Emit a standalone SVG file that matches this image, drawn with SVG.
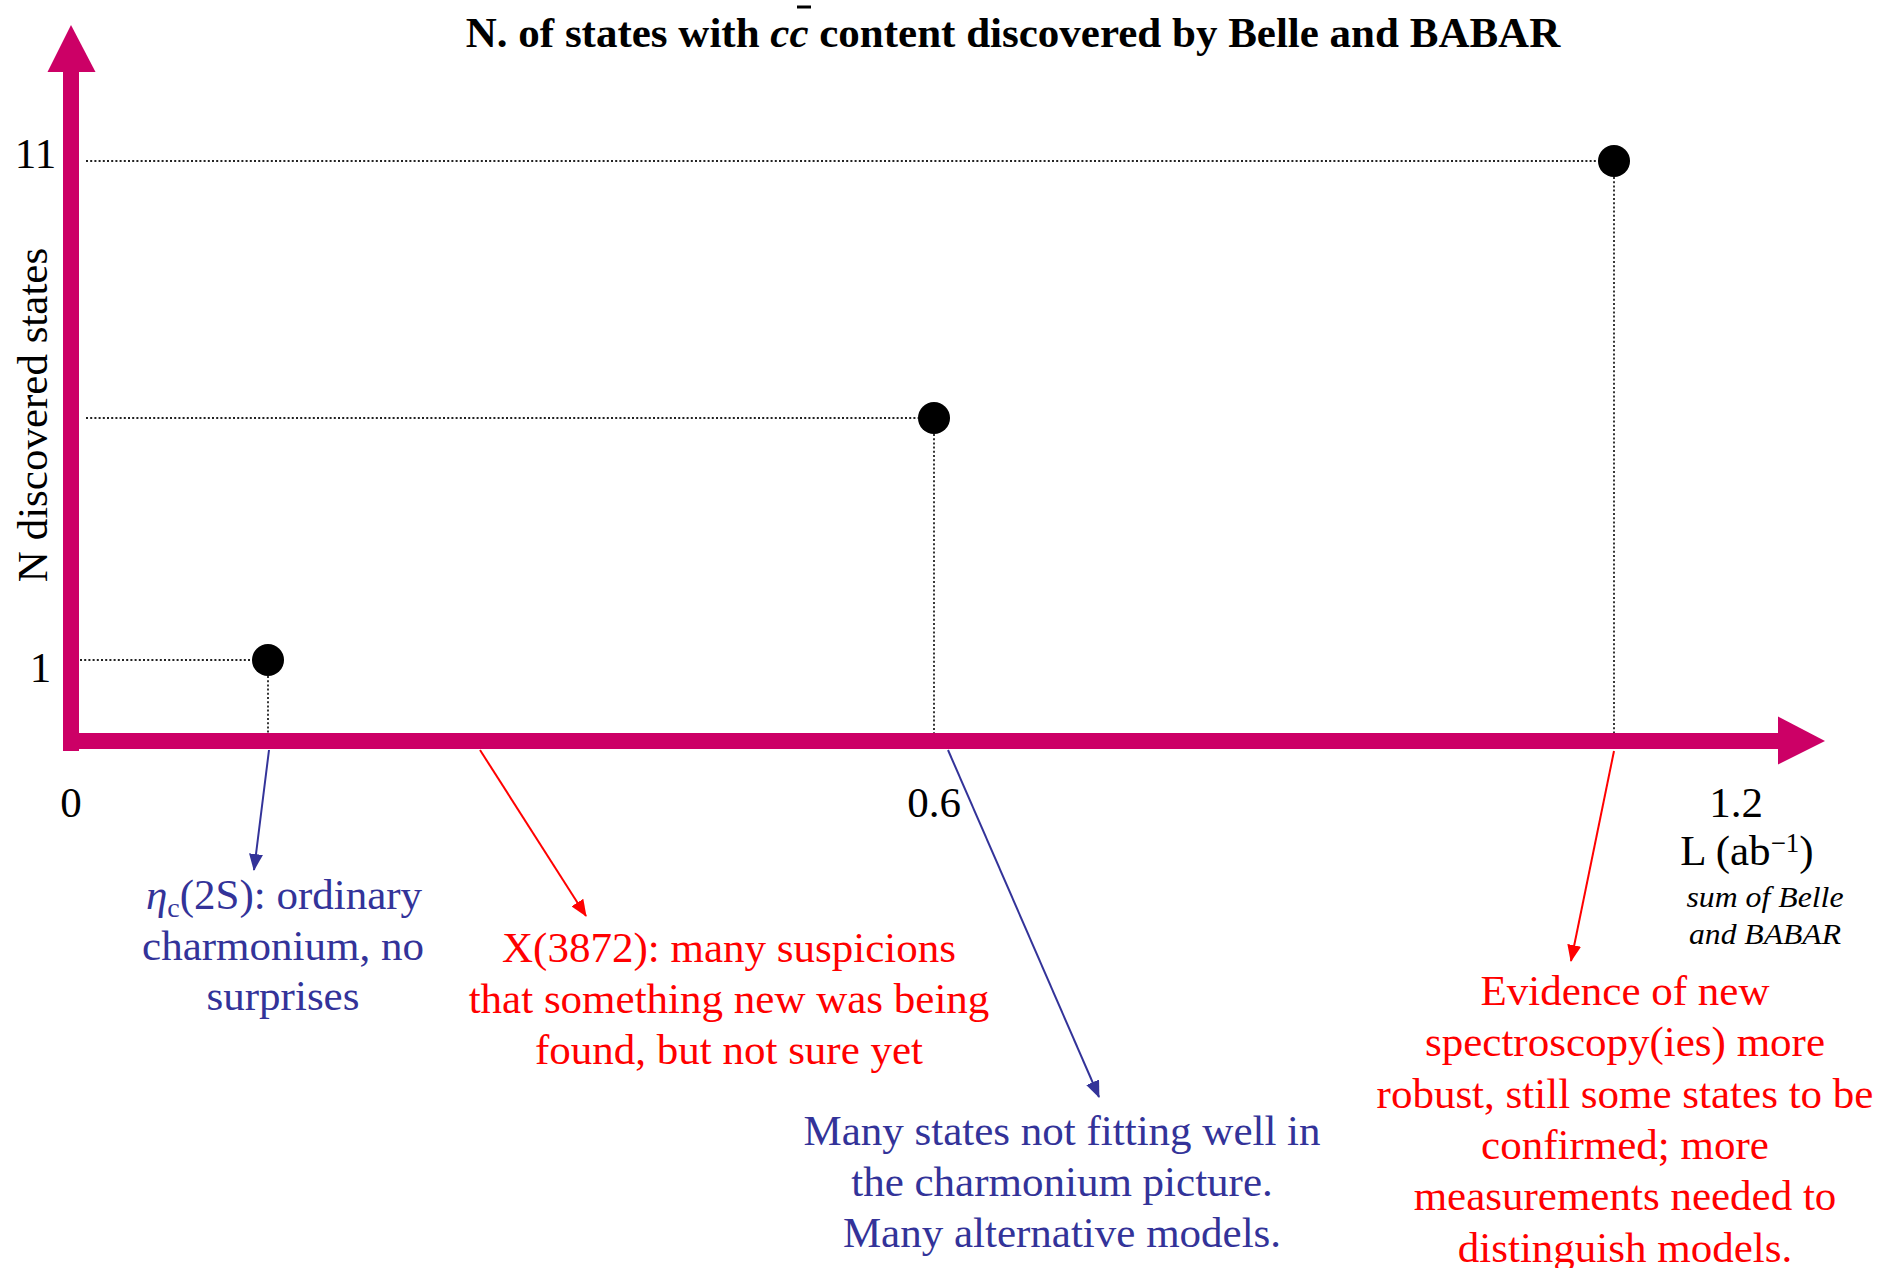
<svg xmlns="http://www.w3.org/2000/svg" width="1895" height="1268" viewBox="0 0 1895 1268">
  <style>
    text { font-family: "Liberation Serif", "Times New Roman", serif; font-size: 43px; }
    .blue { fill: #333399; }
    .red { fill: #FF0000; }
    .blk { fill: #000000; }
    .axis { fill: #CC0066; }
    .dot { stroke: #222222; stroke-width: 1.8; stroke-dasharray: 2 2.2; fill: none; }
    .pt { fill: #000000; }
    .cb { stroke: #333399; stroke-width: 2; fill: none; }
    .cr { stroke: #FF0000; stroke-width: 2; fill: none; }
    .note { font-style: italic; font-size: 29px; }
  </style>
  <defs>
    <marker id="ab" markerUnits="userSpaceOnUse" markerWidth="18" markerHeight="14" refX="16" refY="7" orient="auto">
      <path d="M0,0 L17,7 L0,14 z" fill="#333399"/>
    </marker>
    <marker id="ar" markerUnits="userSpaceOnUse" markerWidth="18" markerHeight="14" refX="16" refY="7" orient="auto">
      <path d="M0,0 L17,7 L0,14 z" fill="#FF0000"/>
    </marker>
  </defs>
  <rect width="1895" height="1268" fill="#FFFFFF"/>

  <!-- title -->
  <g id="title">
    <text x="1013" y="47" text-anchor="middle" font-weight="bold" class="blk">N. of states with <tspan font-style="italic">cc</tspan> content discovered by Belle and BABAR</text>
    <line x1="797" y1="7" x2="811" y2="7" stroke="#000" stroke-width="3"/>
  </g>

  <!-- guide lines -->
  <g id="guides">
    <line class="dot" x1="80" y1="660" x2="252" y2="660"/>
    <line class="dot" x1="268" y1="676" x2="268" y2="733"/>
    <line class="dot" x1="86" y1="418" x2="918" y2="418"/>
    <line class="dot" x1="934" y1="434" x2="934" y2="733"/>
    <line class="dot" x1="86" y1="161" x2="1598" y2="161"/>
    <line class="dot" x1="1614" y1="177" x2="1614" y2="733"/>
  </g>

  <!-- axes -->
  <g id="axes">
    <rect class="axis" x="63" y="71" width="16" height="680"/>
    <polygon class="axis" points="47.5,72 71,25 95.5,72"/>
    <rect class="axis" x="63" y="733" width="1716" height="16"/>
    <polygon class="axis" points="1778,716.5 1825,741 1778,764.5"/>
  </g>

  <!-- data points -->
  <g id="point-1"><circle class="pt" cx="268" cy="660" r="16"/></g>
  <g id="point-2"><circle class="pt" cx="934" cy="418" r="16"/></g>
  <g id="point-3"><circle class="pt" cx="1614" cy="161" r="16"/></g>

  <!-- axis labels -->
  <g id="axis-labels">
    <text x="35.5" y="168" text-anchor="middle" class="blk">11</text>
    <text x="40.5" y="682" text-anchor="middle" class="blk">1</text>
    <text x="71" y="817" text-anchor="middle" class="blk">0</text>
    <text x="934" y="817" text-anchor="middle" class="blk">0.6</text>
    <text x="1736" y="817" text-anchor="middle" class="blk">1.2</text>
    <text x="1747" y="865" text-anchor="middle" class="blk">L (ab<tspan font-size="27" dy="-13">−1</tspan><tspan dy="13">)</tspan></text>
    <text x="1765" y="907" text-anchor="middle" class="blk note" textLength="157" lengthAdjust="spacingAndGlyphs">sum of Belle</text>
    <text x="1765" y="944" text-anchor="middle" class="blk note" textLength="152" lengthAdjust="spacingAndGlyphs">and BABAR</text>
    <text transform="translate(47,415) rotate(-90)" text-anchor="middle" class="blk">N discovered states</text>
  </g>

  <!-- connectors -->
  <g id="connectors">
    <line class="cb" x1="269" y1="750" x2="254" y2="870" marker-end="url(#ab)"/>
    <line class="cr" x1="480" y1="750" x2="586" y2="916" marker-end="url(#ar)"/>
    <line class="cb" x1="948" y1="750" x2="1099" y2="1097" marker-end="url(#ab)"/>
    <line class="cr" x1="1614" y1="751" x2="1571" y2="961" marker-end="url(#ar)"/>
  </g>

  <!-- annotations -->
  <g id="note-etac">
    <text x="284" y="909" text-anchor="middle" class="blue"><tspan font-style="italic">η</tspan><tspan font-size="28" dy="8">c</tspan><tspan dy="-8">(2S): ordinary</tspan></text>
    <text x="283" y="960" text-anchor="middle" class="blue">charmonium, no</text>
    <text x="283" y="1010" text-anchor="middle" class="blue">surprises</text>
  </g>
  <g id="note-x3872">
    <text x="729" y="962" text-anchor="middle" class="red">X(3872): many suspicions</text>
    <text x="729" y="1013" text-anchor="middle" class="red">that something new was being</text>
    <text x="729" y="1064" text-anchor="middle" class="red">found, but not sure yet</text>
  </g>
  <g id="note-many">
    <text x="1062" y="1145" text-anchor="middle" class="blue">Many states not fitting well in</text>
    <text x="1062" y="1196" text-anchor="middle" class="blue">the charmonium picture.</text>
    <text x="1062" y="1247" text-anchor="middle" class="blue">Many alternative models.</text>
  </g>
  <g id="note-evidence">
    <text x="1625" y="1005" text-anchor="middle" class="red">Evidence of new</text>
    <text x="1625" y="1056" text-anchor="middle" class="red">spectroscopy(ies) more</text>
    <text x="1625" y="1108" text-anchor="middle" class="red">robust, still some states to be</text>
    <text x="1625" y="1159" text-anchor="middle" class="red">confirmed; more</text>
    <text x="1625" y="1210" text-anchor="middle" class="red">measurements needed to</text>
    <text x="1625" y="1262" text-anchor="middle" class="red">distinguish models.</text>
  </g>
</svg>
